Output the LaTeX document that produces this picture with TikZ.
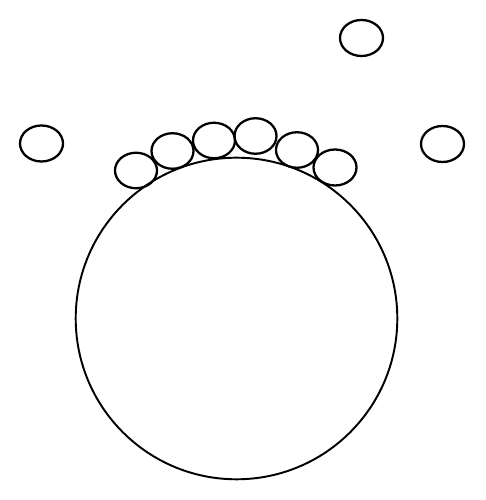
\documentclass[tikz,border=0pt]{standalone}
\begin{document}
\begin{tikzpicture}
        \useasboundingbox (0,0) rectangle (9.7,10);
        \draw[line width=1.1pt] (4.73,3.63) circle (3.216);
        \begin{scope}[line width=1.3pt]
            \draw (7.23,9.24) ellipse (0.43 and 0.36);
            \draw (0.83,7.13) ellipse (0.43 and 0.36);
            \draw (8.85,7.12) ellipse (0.43 and 0.36);
        \end{scope}
        \begin{scope}[line width=1.3pt]
            \draw (2.72,6.59) ellipse (0.42 and 0.355);
            \draw (3.45,6.98) ellipse (0.42 and 0.355);
            \draw (4.28,7.19) ellipse (0.42 and 0.355);
            \draw (5.11,7.28) ellipse (0.42 and 0.355);
            \draw (5.94,7.00) ellipse (0.42 and 0.355);
            \draw (6.70,6.65) ellipse (0.43 and 0.36);
        \end{scope}
    \end{tikzpicture}
\end{document}
